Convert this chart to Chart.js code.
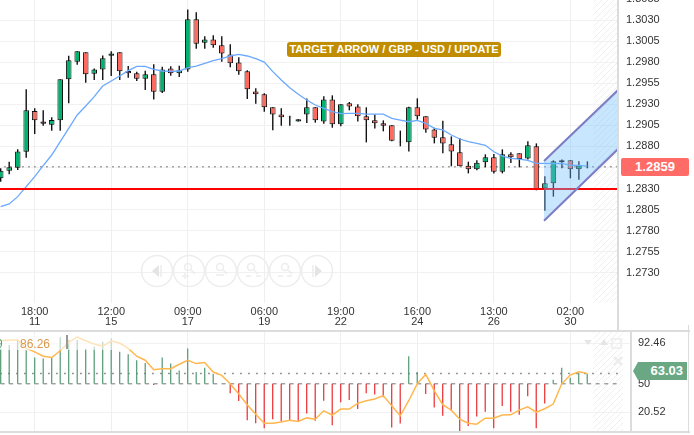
<!DOCTYPE html>
<html>
<head>
<meta charset="utf-8">
<title>GBP - USD</title>
<script src="https://cdn.jsdelivr.net/npm/chart.js@4"></script>
<style>
  html, body { margin: 0; padding: 0; background: #fff; }
  #page { position: relative; width: 694px; height: 435px; overflow: hidden; font-family: "Liberation Sans", sans-serif; }
  canvas { position: absolute; left: 0; }
  #priceChart { top: -10px; }
  #oscChart { top: 332px; }
  .rule { position: absolute; background: #dcdcdc; }
  #badge { position: absolute; left: 287px; top: 42px; width: 214px; height: 15px; line-height: 15px; background: #c08d00; color: #fff; border-radius: 3px; font-size: 11px; font-weight: bold; text-align: center; white-space: nowrap; }
  #priceTag { position: absolute; left: 621px; top: 158px; width: 68px; height: 18px; line-height: 18px; background: #ff6b67; color: #fff; border-radius: 2px; font-size: 13px; font-weight: bold; text-align: center; }
  #oscTag { position: absolute; left: 633px; top: 362px; width: 50px; height: 18px; line-height: 18px; padding-right: 4px; background: #6aa884; color: #fff; font-size: 13px; font-weight: bold; text-align: right; clip-path: polygon(0 50%, 5px 0, 100% 0, 100% 100%, 5px 100%); }
  #legendFade { position: absolute; left: 0; top: 335px; width: 130px; height: 15px; background: rgba(255,255,255,0.6); }
  .legendText { position: absolute; top: 337px; font-size: 12px; line-height: 14px; }
  #legendBar { position: absolute; left: 66px; top: 335px; width: 2px; height: 14px; background: #999; }
  svg { position: absolute; left: 0; top: 0; }
</style>
</head>
<body>
<div id="page">
  <canvas id="priceChart" width="694" height="342"></canvas>
  <canvas id="oscChart" width="694" height="100"></canvas>

  <div class="rule" style="left:0;top:330px;width:690px;height:2px"></div>
  <div class="rule" style="left:0;top:431px;width:690px;height:2px"></div>
  <div class="rule" style="left:617px;top:0;width:2px;height:331px"></div>
  <div class="rule" style="left:630px;top:332px;width:2px;height:100px"></div>
  <div class="rule" style="left:688px;top:325px;width:1px;height:107px"></div>

  <div id="badge">TARGET ARROW / GBP - USD / UPDATE</div>
  <div id="priceTag">1.2859</div>
  <div id="oscTag">63.03</div>
  <div id="legendFade"></div>
  <div class="legendText" style="left:-4px;color:#5a9e78">9</div>
  <div class="legendText" style="left:20px;color:#d9994a">86.26</div>
  <div id="legendBar"></div>

  <svg width="694" height="435" fill="none" stroke="#ededed" stroke-width="1.5">
    <circle cx="157" cy="271" r="15.5"/><circle cx="189" cy="271" r="15.5"/><circle cx="221" cy="271" r="15.5"/>
    <circle cx="253" cy="271" r="15.5"/><circle cx="285" cy="271" r="15.5"/><circle cx="317" cy="271" r="15.5"/>
    <path d="M152 271l7-6v12z" fill="#e4e4e4" stroke="none"/><path d="M161 265v12"/>
    <path d="M322 271l-7-6v12z" fill="#e4e4e4" stroke="none"/><path d="M313 265v12"/>
    <circle cx="188" cy="267" r="3.5"/><path d="M191 270l4 4M182 276h7M185 273v6"/>
    <circle cx="220" cy="267" r="3.5"/><path d="M223 270l4 4M216 275h8"/>
    <circle cx="251" cy="267" r="3.5"/><path d="M254 270l4 4M246 276h5M256 276h5"/>
    <circle cx="285" cy="267" r="3.5"/><path d="M288 270l4 4M278 276h5M287 276h5"/>
    <path d="M584 340h8l-4 5z" fill="#e6e6e6" stroke="none"/>
    <path d="M600 345l4-6 4 6z" fill="#e6e6e6" stroke="none"/>
    <rect x="612" y="339" width="9" height="9"/>
    <path d="M614 357l8 8M622 357l-8 8" stroke-width="2.5"/>
  </svg>
</div>

<script>
const opens = [1.28421,1.28512,1.28548,1.28737,1.29220,1.29097,1.29058,1.29109,1.29596,1.29805,1.29916,1.29663,1.29714,1.29877,1.29916,1.29695,1.29667,1.29604,1.29655,1.29449,1.29726,1.29667,1.29714,1.30308,1.30031,1.30070,1.29999,1.29892,1.29797,1.29691,1.29453,1.29418,1.29264,1.29180,1.29153,1.29097,1.29180,1.29264,1.29097,1.29358,1.29062,1.29311,1.29275,1.29157,1.29109,1.29074,1.29050,1.28848,1.28848,1.29264,1.29157,1.29002,1.28908,1.28825,1.28730,1.28571,1.28528,1.28611,1.28670,1.28500,1.28706,1.28718,1.28658,1.28801,1.28302,1.28362,1.28611,1.28635,1.28528,1.28564]
const closes = [1.28512,1.28552,1.28741,1.29228,1.29109,1.29070,1.29113,1.29596,1.29821,1.29928,1.29655,1.29714,1.29845,1.29904,1.29691,1.29667,1.29604,1.29655,1.29449,1.29714,1.29667,1.29703,1.30308,1.30019,1.30070,1.29999,1.29904,1.29786,1.29691,1.29477,1.29418,1.29264,1.29180,1.29145,1.29145,1.29121,1.29264,1.29109,1.29358,1.29062,1.29299,1.29275,1.29157,1.29109,1.29074,1.29046,1.28868,1.28856,1.29264,1.29157,1.29002,1.28904,1.28836,1.28741,1.28564,1.28528,1.28607,1.28670,1.28500,1.28706,1.28670,1.28650,1.28813,1.28291,1.28362,1.28623,1.28635,1.28528,1.28575,1.28571]
const highs = [1.28540,1.28619,1.28765,1.29477,1.29252,1.29228,1.29145,1.29596,1.29877,1.29928,1.29916,1.29726,1.29880,1.29928,1.29916,1.29754,1.29687,1.29699,1.29774,1.29746,1.29750,1.29758,1.30426,1.30391,1.30106,1.30118,1.30106,1.30011,1.29857,1.29703,1.29489,1.29430,1.29264,1.29252,1.29165,1.29121,1.29370,1.29264,1.29394,1.29406,1.29299,1.29327,1.29299,1.29264,1.29180,1.29109,1.29050,1.28987,1.29271,1.29370,1.29157,1.29022,1.29105,1.28919,1.28896,1.28619,1.28635,1.28706,1.28710,1.28765,1.28730,1.28718,1.28860,1.28836,1.28445,1.28635,1.28646,1.28635,1.28623,1.28623]
const lows = [1.28381,1.28469,1.28520,1.28666,1.28947,1.29046,1.28987,1.28987,1.29311,1.29770,1.29556,1.29588,1.29588,1.29635,1.29588,1.29615,1.29576,1.29469,1.29358,1.29434,1.29639,1.29623,1.29687,1.29960,1.29960,1.29971,1.29805,1.29738,1.29651,1.29362,1.29307,1.29212,1.28991,1.29046,1.29046,1.29097,1.29078,1.29082,1.29070,1.29022,1.29038,1.29228,1.29097,1.28848,1.29014,1.28979,1.28860,1.28801,1.28741,1.29117,1.28963,1.28836,1.28718,1.28564,1.28564,1.28480,1.28516,1.28552,1.28480,1.28480,1.28603,1.28552,1.28646,1.28279,1.28037,1.28204,1.28540,1.28421,1.28405,1.28540]
const movingAvg = [1.28085,1.28117,1.28204,1.28322,1.28441,1.28571,1.28698,1.28856,1.29014,1.29173,1.29279,1.29390,1.29517,1.29576,1.29635,1.29699,1.29750,1.29750,1.29714,1.29695,1.29691,1.29695,1.29734,1.29754,1.29786,1.29817,1.29841,1.29873,1.29892,1.29873,1.29841,1.29801,1.29687,1.29588,1.29497,1.29418,1.29351,1.29291,1.29252,1.29212,1.29188,1.29192,1.29192,1.29184,1.29184,1.29184,1.29133,1.29113,1.29093,1.29109,1.29074,1.29014,1.28995,1.28935,1.28888,1.28856,1.28836,1.28813,1.28737,1.28686,1.28658,1.28650,1.28635,1.28599,1.28599,1.28595,1.28599,1.28575,1.28575,1.28567]

const oscBars = [86.9,90.4,95.6,85.1,77.4,76.3,77.4,98.4,95.6,95.6,86.5,88.6,93.9,97.4,83.3,80.9,74.6,71.8,48.9,77.4,71.1,64,86.9,62.3,66.8,60.5,50.4,40.2,32.1,12.1,8.9,3.7,13.1,10.7,12.1,10.7,19.1,11.4,32.4,6.8,30.7,33.2,23.7,40.2,38.8,36,4.4,8.6,78.8,62.3,39.5,25.4,16.7,21.9,0.9,6.1,16,20.9,3.7,26.8,20.9,17.7,37,3.7,29.6,54.2,66.8,56.3,61.2,60.5]
const oscLine = [94.9,95.6,95.6,86.9,83.3,78.8,77.4,84.4,93.2,98.8,94.9,91.4,89.3,94.6,92.5,86.9,78.8,74.6,64.7,65.8,65.8,70.4,74.6,71.1,72.1,62.3,58.8,50,39.5,28.2,18.4,8.9,8.9,10.3,12.1,10.7,14.5,13.1,21.9,17.4,23.7,23.7,29.6,32.4,34.2,37.7,27.2,16.7,32.4,50,59.8,43,28.2,22.6,13.1,8.9,7.9,14.2,14.2,17.4,17.7,22.6,26.1,20.5,24,28.9,50,59.1,62.6,60.9]

const timeTickAt = [4,13,22,31,40,49,58,67]
const timeTickHours = ["18:00","12:00","09:00","06:00","19:00","16:00","13:00","02:00"]
const timeTickDays = ["11","15","17","19","22","24","26","30"]
const priceTicks = [1.2730,1.2755,1.2780,1.2805,1.2830,1.2855,1.2880,1.2905,1.2930,1.2955,1.2980,1.3005,1.3030,1.3055]
const oscTicks = [92.46,50,20.52]

const supportLevel = 1.28295
const lastPriceLevel = 1.2856
const channelX = [63.9,72.6]
const channelUpper = [1.28627,1.29469]
const channelLower = [1.27919,1.28769]
const oscBase = 50
const oscDotted = 60.7
const hatchFrom = 69.7

const fontName = "'Liberation Sans', sans-serif"
const candleIdx = opens.map((v, i) => i)

// striped area after the last candles, both panels
function makeHatch(ctx) {
  const c = document.createElement("canvas")
  c.width = 6
  c.height = 6
  const g = c.getContext("2d")
  g.strokeStyle = "#efefef"
  g.lineWidth = 1
  g.beginPath()
  g.moveTo(0, 6); g.lineTo(6, 0)
  g.moveTo(-3, 3); g.lineTo(3, -3)
  g.moveTo(3, 9); g.lineTo(9, 3)
  g.stroke()
  return ctx.createPattern(c, "repeat")
}

const hatchPlugin = {
  id: "hatch",
  beforeDatasetsDraw(chart) {
    const a = chart.chartArea
    const left = chart.scales.x.getPixelForValue(hatchFrom)
    chart.ctx.save()
    chart.ctx.fillStyle = makeHatch(chart.ctx)
    chart.ctx.fillRect(left, a.top, chart.options.hatchRight - left, a.bottom - a.top)
    chart.ctx.restore()
  }
}

function noPadding(scale) {
  scale.paddingTop = 0
  scale.paddingBottom = 0
  scale.paddingLeft = 0
  scale.paddingRight = 0
}

function hLine(value, color, width, dash, order, xEnd) {
  return {
    type: "line",
    data: [{x: -1, y: value}, {x: xEnd, y: value}],
    borderColor: color,
    borderWidth: width,
    borderDash: dash,
    pointRadius: 0,
    order: order
  }
}

new Chart(document.getElementById("priceChart"), {
  type: "bar",
  plugins: [hatchPlugin],
  data: {
    datasets: [
      {
        data: candleIdx.map(i => ({x: i, y: [lows[i], highs[i]]})),
        backgroundColor: "#111",
        barThickness: 1.4,
        inflateAmount: 0,
        grouped: false,
        order: 10
      },
      {
        data: candleIdx.map(i => ({x: i, y: [opens[i], closes[i]]})),
        backgroundColor: candleIdx.map(i => closes[i] >= opens[i] ? "#00b26f" : "#ff6a5f"),
        borderColor: "#111",
        borderWidth: 1,
        borderSkipped: false,
        barThickness: 5.6,
        inflateAmount: 0,
        grouped: false,
        order: 9
      },
      hLine(lastPriceLevel, "#888", 1.5, [1.5, 4.5], 11, 73),
      {
        type: "line",
        data: candleIdx.map(i => ({x: i, y: movingAvg[i]})),
        borderColor: "#6aa9ff",
        borderWidth: 1.3,
        pointRadius: 0,
        order: 8
      },
      hLine(supportLevel, "#ff0000", 2, [], 7, 73),
      {
        type: "line",
        data: channelX.map((x, i) => ({x: x, y: channelUpper[i]})),
        borderColor: "#7c7cc4",
        borderWidth: 2,
        pointRadius: 0,
        fill: "+1",
        backgroundColor: "rgba(110,190,250,0.38)",
        order: 6
      },
      {
        type: "line",
        data: channelX.map((x, i) => ({x: x, y: channelLower[i]})),
        borderColor: "#7c7cc4",
        borderWidth: 2,
        pointRadius: 0,
        order: 5
      }
    ]
  },
  options: {
    responsive: false,
    animation: false,
    hatchRight: 618,
    plugins: {legend: {display: false}, tooltip: {enabled: false}},
    scales: {
      x: {
        type: "linear",
        offset: false,
        min: -0.082,
        max: 72.6,
        border: {display: false},
        grid: {color: "#efefef", drawTicks: false, offset: false},
        ticks: {
          autoSkip: false,
          maxRotation: 0,
          padding: 4,
          color: "#333",
          font: {family: fontName, size: 11, lineHeight: 0.91},
          callback: v => {
            const k = timeTickAt.indexOf(v)
            return [timeTickHours[k], timeTickDays[k]]
          }
        },
        afterBuildTicks: s => { s.ticks = timeTickAt.map(v => ({value: v})) },
        afterFit: s => { s.height = 29; noPadding(s) }
      },
      y: {
        position: "right",
        min: 1.26942,
        max: 1.30656,
        border: {display: false},
        grid: {color: "#f1f1f1", drawTicks: false},
        ticks: {
          padding: 8,
          align: "center",
          crossAlign: "near",
          color: "#333",
          font: {family: fontName, size: 11},
          callback: v => v.toFixed(4)
        },
        afterBuildTicks: s => { s.ticks = priceTicks.map(v => ({value: v})) },
        afterFit: s => { s.width = 76; noPadding(s) }
      }
    }
  }
})

new Chart(document.getElementById("oscChart"), {
  type: "bar",
  plugins: [hatchPlugin],
  data: {
    datasets: [
      {
        data: candleIdx.map(i => ({x: i, y: [oscBase, oscBars[i]]})),
        backgroundColor: candleIdx.map(i => oscBars[i] >= oscBase ? "#4f9870" : "#ea2a2e"),
        barThickness: 1.2,
        inflateAmount: 0,
        grouped: false,
        order: 5
      },
      hLine(oscDotted, "#777", 1.5, [1.5, 6.5], 6, 72.9),
      hLine(oscBase, "#777", 1, [4, 4.5], 7, 72.9),
      {
        type: "line",
        data: candleIdx.map(i => ({x: i, y: oscLine[i]})),
        borderColor: "#ffb74d",
        borderWidth: 1.5,
        pointRadius: 0,
        order: 1
      }
    ]
  },
  options: {
    responsive: false,
    animation: false,
    hatchRight: 623,
    plugins: {legend: {display: false}, tooltip: {enabled: false}},
    scales: {
      x: {
        type: "linear",
        offset: false,
        min: -0.082,
        max: 74.15,
        border: {display: false},
        grid: {color: "#efefef", drawTicks: false, offset: false},
        ticks: {display: false},
        afterBuildTicks: s => { s.ticks = timeTickAt.map(v => ({value: v})) },
        afterFit: s => { s.height = 0; noPadding(s) }
      },
      y: {
        position: "right",
        min: -0.2,
        max: 104,
        border: {display: false},
        grid: {color: c => c.tick.value === oscBase ? "rgba(0,0,0,0)" : "#f1f1f1", drawTicks: false},
        ticks: {
          padding: 7,
          color: "#333",
          font: {family: fontName, size: 11},
          callback: v => String(v)
        },
        afterBuildTicks: s => { s.ticks = oscTicks.map(v => ({value: v})) },
        afterFit: s => { s.width = 63; noPadding(s) }
      }
    }
  }
})
</script>
</body>
</html>
